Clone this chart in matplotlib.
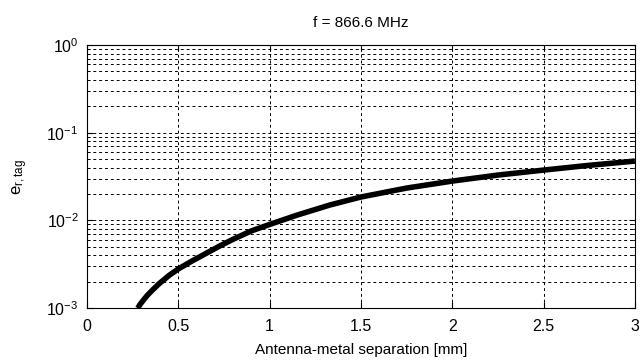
import matplotlib
matplotlib.use("Agg")
import matplotlib.pyplot as plt
import numpy as np

plt.rcParams['font.family'] = ['Liberation Sans', 'DejaVu Sans']
plt.rcParams['mathtext.fontset'] = 'custom'
plt.rcParams['mathtext.rm'] = 'Liberation Sans'
plt.rcParams['mathtext.it'] = 'Liberation Sans'

# separation [mm] vs e_r,tag
sep = [0.278, 0.29, 0.31, 0.33, 0.36, 0.392, 0.45, 0.5, 0.575, 0.666, 0.728, 0.8, 0.9, 1.0,
       1.15, 1.33, 1.5, 1.75, 2.0, 2.25, 2.5, 2.75, 3.0]
e_tag = [0.00100, 0.00110, 0.001245, 0.00140, 0.00162, 0.00188, 0.00237, 0.00280, 0.00345,
         0.00437, 0.00513, 0.0061, 0.0076, 0.0090, 0.0115, 0.0150, 0.0185, 0.0234, 0.0281,
         0.0329, 0.0375, 0.0425, 0.0475]

fig = plt.figure(figsize=(6.4, 3.6), dpi=100)
ax = fig.add_axes([0.136, 0.144, 0.856, 0.731])

ax.semilogy(sep, e_tag, color='black', linewidth=4, solid_capstyle='butt',
            solid_joinstyle='round')

ax.set_xlim(0, 3)
ax.set_ylim(1e-3, 1)
ax.set_xticks([0, 0.5, 1, 1.5, 2, 2.5, 3])
ax.set_xticklabels(['0', '0.5', '1', '1.5', '2', '2.5', '3'])

ax.grid(True, which='major', color='black', linestyle=(0, (3, 3)), linewidth=0.7)
ax.grid(True, which='minor', axis='y', color='black', linestyle=(0, (3, 3)), linewidth=0.7)
ax.tick_params(which='both', direction='in', top=True, right=True, labelsize=11.5)
ax.tick_params(axis='x', pad=8)
ax.tick_params(axis='y', pad=6)
ax.tick_params(which='minor', length=2)
ax.tick_params(which='major', length=4)
for s in ax.spines.values():
    s.set_linewidth(0.8)

ax.set_title('f = 866.6 MHz', fontsize=11, pad=13)
ax.set_xlabel('Antenna-metal separation [mm]', fontsize=11, labelpad=6)
ax.set_ylabel(r'$\mathrm{e_{r,tag}}$', fontsize=12, labelpad=12)

fig.savefig('out.png', dpi=100)
